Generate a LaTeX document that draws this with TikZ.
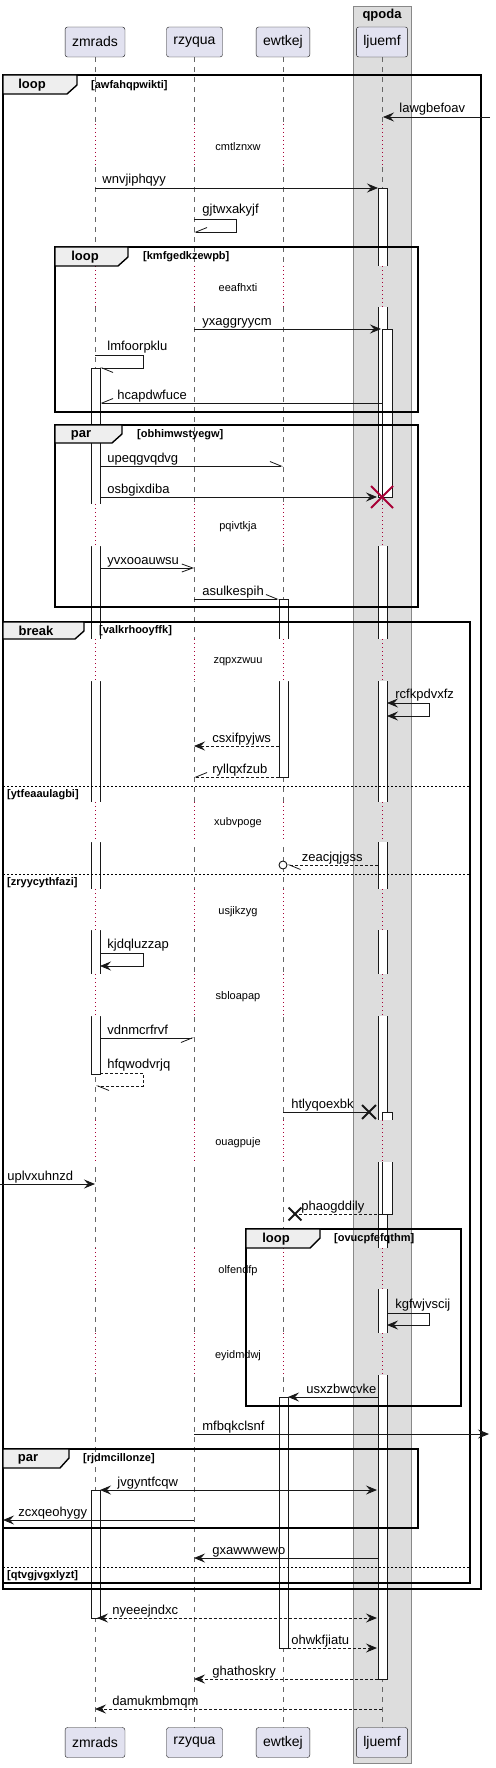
\documentclass[tikz,border=0pt]{standalone}
\usepackage{fontspec}
\setmainfont{Liberation Sans}
\usetikzlibrary{arrows.meta,shapes.misc}
\definecolor{partfill}{HTML}{E2E2F0}
\definecolor{partline}{HTML}{181818}
\definecolor{boxfill}{HTML}{DDDDDD}
\definecolor{boxline}{HTML}{888888}
\definecolor{tabfill}{HTML}{EEEEEE}
\definecolor{lifegray}{HTML}{666666}
\definecolor{delayred}{HTML}{A80036}

\begin{document}
\begin{tikzpicture}[x=1pt, y=-1pt,
    part/.style={draw=partline, fill=partfill, rounded corners=2.5pt, minimum height=30pt, inner xsep=7pt, font=\fontsize{14}{16}\selectfont},
    life/.style={draw=lifegray, line width=0.7pt, dash pattern=on 5pt off 5pt},
    act/.style={draw=partline, fill=white, line width=0.8pt},
    dly/.style={draw=delayred, line width=0.8pt, dash pattern=on 1pt off 3pt},
    dtxt/.style={font=\fontsize{11}{13}\selectfont, inner sep=0pt},
    frame/.style={draw=black, line width=1.4pt},
    tab/.style={draw=black, fill=tabfill, line width=1.4pt},
    kw/.style={font=\bfseries\fontsize{13}{15}\selectfont, inner sep=0pt},
    cond/.style={anchor=west, font=\bfseries\fontsize{11}{13}\selectfont, inner sep=0pt},
    elsesep/.style={draw=black, line width=0.8pt, dash pattern=on 2pt off 2pt},
    lbl/.style={anchor=base west, font=\fontsize{13}{15}\selectfont, inner sep=0pt},
    msg/.style={draw=partline, line width=0.8pt},
    ret/.style={msg, dash pattern=on 3pt off 2pt},
    sync/.style={-{Stealth[length=11pt, width=9pt, inset=4pt]}},
    both/.style={{Stealth[length=11pt, width=9pt, inset=4pt]}-{Stealth[length=11pt, width=9pt, inset=4pt]}},
    async/.style={-{Straight Barb[length=11pt, width=8pt]}},
    harp/.style={-{Straight Barb[harpoon, length=11pt, width=9pt]}},
    harpsw/.style={-{Straight Barb[harpoon, swap, length=11pt, width=9pt]}},
    xmark/.style={cross out, draw=partline, line width=1.8pt, minimum size=11pt, inner sep=0pt}
]
    \useasboundingbox (0,0) rectangle (495,1768);

    % box around ljuemf
    \draw[draw=boxline, fill=boxfill, line width=0.8pt] (353,6) rectangle (411,1763);
    \node[kw] (grp) at (382,15) {qpoda};

    % participants, top and bottom
    \node[part] (zm) at (95,42) {zmrads};
    \node[part] (rz) at (194.5,42) {rzyqua};
    \node[part] (ew) at (283,42) {ewtkej};
    \node[part] (lj) at (382,42) {ljuemf};
    \node[part] (zmb) at (95,1742.5) {zmrads};
    \node[part] (rzb) at (194.5,1742.5) {rzyqua};
    \node[part] (ewb) at (283,1742.5) {ewtkej};
    \node[part] (ljb) at (382,1742.5) {ljuemf};

    % lifelines
    \draw[life] (zm) -- (zmb);
    \draw[life] (rz) -- (rzb);
    \draw[life] (ew) -- (ewb);
    \draw[life] (lj) -- (ljb);

    % activations
    \draw[act] (91,368) rectangle (100,1074);
    \draw[act] (91,1490) rectangle (100,1618);
    \draw[act] (279,599) rectangle (288,777);
    \draw[act] (279,1397) rectangle (288,1648);
    \draw[act] (378,188) rectangle (387,497);
    \draw[act] (382,329) rectangle (392,497);
    \draw[act] (378,504) rectangle (387,1679);
    \draw[act] (382,1112) rectangle (392,1214);

    % delays
    \fill[white] (88,124) rectangle (103,167) (190,124) rectangle (198,167) (276,124) rectangle (291,167);
    \fill[boxfill] (376,124) rectangle (395,167);
    \draw[dly] (95,124) -- (95,167) (194,124) -- (194,167) (283,124) -- (283,167) (382,124) -- (382,167);
    \node[dtxt] (d1) at (238,147) {cmtlznxw};

    \fill[white] (88,266) rectangle (103,307) (190,266) rectangle (198,307) (276,266) rectangle (291,307);
    \fill[boxfill] (376,266) rectangle (395,307);
    \draw[dly] (95,266) -- (95,307) (194,266) -- (194,307) (283,266) -- (283,307) (382,266) -- (382,307);
    \node[dtxt] (d2) at (238,288) {eeafhxti};

    \fill[white] (88,504) rectangle (103,546) (190,504) rectangle (198,546) (276,504) rectangle (291,546);
    \fill[boxfill] (376,504) rectangle (395,546);
    \draw[dly] (95,504) -- (95,546) (194,504) -- (194,546) (283,504) -- (283,546) (382,504) -- (382,546);
    \node[dtxt] (d3) at (238,527) {pqivtkja};

    \fill[white] (88,639) rectangle (103,681) (190,639) rectangle (198,681) (276,639) rectangle (291,681);
    \fill[boxfill] (376,639) rectangle (395,681);
    \draw[dly] (95,639) -- (95,681) (194,639) -- (194,681) (283,639) -- (283,681) (382,639) -- (382,681);
    \node[dtxt] (d4) at (238,662) {zqpxzwuu};

    \fill[white] (88,802) rectangle (103,842) (190,802) rectangle (198,842) (276,802) rectangle (291,842);
    \fill[boxfill] (376,802) rectangle (395,842);
    \draw[dly] (95,802) -- (95,842) (194,802) -- (194,842) (283,802) -- (283,842) (382,802) -- (382,842);
    \node[dtxt] (d5) at (238,823) {xubvpoge};

    \fill[white] (88,889) rectangle (103,930) (190,889) rectangle (198,930) (276,889) rectangle (291,930);
    \fill[boxfill] (376,889) rectangle (395,930);
    \draw[dly] (95,889) -- (95,930) (194,889) -- (194,930) (283,889) -- (283,930) (382,889) -- (382,930);
    \node[dtxt] (d6) at (238,912) {usjikzyg};

    \fill[white] (88,974) rectangle (103,1016) (190,974) rectangle (198,1016) (276,974) rectangle (291,1016);
    \fill[boxfill] (376,974) rectangle (395,1016);
    \draw[dly] (95,974) -- (95,1016) (194,974) -- (194,1016) (283,974) -- (283,1016) (382,974) -- (382,1016);
    \node[dtxt] (d7) at (238,997) {sbloapap};

    \fill[white] (88,1120) rectangle (103,1162) (190,1120) rectangle (198,1162) (276,1120) rectangle (291,1162);
    \fill[boxfill] (376,1120) rectangle (395,1162);
    \draw[dly] (95,1120) -- (95,1162) (194,1120) -- (194,1162) (283,1120) -- (283,1162) (382,1120) -- (382,1162);
    \node[dtxt] (d8) at (238,1143) {ouagpuje};

    \fill[white] (88,1248) rectangle (103,1289) (190,1248) rectangle (198,1289) (276,1248) rectangle (291,1289);
    \fill[boxfill] (376,1248) rectangle (395,1289);
    \draw[dly] (95,1248) -- (95,1289) (194,1248) -- (194,1289) (283,1248) -- (283,1289) (382,1248) -- (382,1289);
    \node[dtxt] (d9) at (238,1271) {olfendfp};

    \fill[white] (88,1333) rectangle (103,1375) (190,1333) rectangle (198,1375) (276,1333) rectangle (291,1375);
    \fill[boxfill] (376,1333) rectangle (395,1375);
    \draw[dly] (95,1333) -- (95,1375) (194,1333) -- (194,1375) (283,1333) -- (283,1375) (382,1333) -- (382,1375);
    \node[dtxt] (d10) at (238,1356) {eyidmdwj};

    % loop awfahqpwikti
    \draw[frame] (3,75) rectangle (481,1589);
    \draw[tab] (3,75) -- (77,75) -- (77,85) -- (67,94) -- (3,94) -- cycle;
    \node[kw] (f1) at (32,85) {loop};
    \node[cond] (c1) at (91,86) {[awfahqpwikti]};

    % loop kmfgedkzewpb
    \draw[frame] (55,247) rectangle (418,412);
    \draw[tab] (55,247) -- (128,247) -- (128,257) -- (118,266) -- (55,266) -- cycle;
    \node[kw] (f2) at (85,257) {loop};
    \node[cond] (c2) at (143,257) {[kmfgedkzewpb]};

    % par obhimwstyegw
    \draw[frame] (55,425) rectangle (418,607);
    \draw[tab] (55,425) -- (122,425) -- (122,434) -- (112,443) -- (55,443) -- cycle;
    \node[kw] (f3) at (81,435) {par};
    \node[cond] (c3) at (137,435) {[obhimwstyegw]};

    % break valkrhooyffk, with two else parts
    \draw[frame] (3,622) rectangle (470,1583);
    \draw[tab] (3,622) -- (84,622) -- (84,631) -- (75,639) -- (3,639) -- cycle;
    \node[kw] (f4) at (36,631) {break};
    \node[cond] (c4) at (99,631) {[valkrhooyffk]};
    \draw[elsesep] (3,786) -- (470,786);
    \node[cond] (e1) at (7,795) {[ytfeaaulagbi]};
    \draw[elsesep] (3,874) -- (470,874);
    \node[cond] (e2) at (7,883) {[zryycythfazi]};
    \draw[elsesep] (3,1567) -- (470,1567);
    \node[cond] (e3) at (7,1576) {[qtvgjvgxlyzt]};

    % loop ovucpfefqthm
    \draw[frame] (246,1229) rectangle (461,1406);
    \draw[tab] (246,1229) -- (320,1229) -- (320,1238) -- (310,1248) -- (246,1248) -- cycle;
    \node[kw] (f5) at (276,1239) {loop};
    \node[cond] (c5) at (334,1239) {[ovucpfefqthm]};

    % par rjdmcillonze
    \draw[frame] (3,1449) rectangle (418,1528);
    \draw[tab] (3,1449) -- (69,1449) -- (69,1458) -- (60,1468) -- (3,1468) -- cycle;
    \node[kw] (f6) at (28,1459) {par};
    \node[cond] (c6) at (83,1459) {[rjdmcillonze]};

    % messages
    \coordinate (m1a) at (490,117); \coordinate (m1b) at (383,117);
    \draw[msg, sync] (m1a) -- (m1b) node[lbl, pos=1, xshift=16pt, yshift=4pt] (l1) {lawgbefoav};
    \coordinate (m2a) at (95,188); \coordinate (m2b) at (378,188);
    \draw[msg, sync] (m2a) -- (m2b) node[lbl, pos=0, xshift=7pt, yshift=4pt] (l2) {wnvjiphqyy};
    \coordinate (m3a) at (194,219); \coordinate (m3b) at (194,232);
    \draw[msg, harpsw] (m3a) -- node[lbl, pos=0, xshift=8pt, yshift=5pt] (l3) {gjtwxakyjf} ++(42,0) -- ++(0,13) -- (m3b);
    \coordinate (m4a) at (194,329); \coordinate (m4b) at (381,329);
    \draw[msg, sync] (m4a) -- (m4b) node[lbl, pos=0, xshift=8pt, yshift=4pt] (l4) {yxaggryycm};
    \coordinate (m5a) at (95,355); \coordinate (m5b) at (100,368);
    \draw[msg, harp] (m5a) -- node[lbl, pos=0, xshift=12pt, yshift=5pt] (l5) {lmfoorpklu} ++(48,0) -- ++(0,13) -- (m5b);
    \coordinate (m6a) at (382,403); \coordinate (m6b) at (100,403);
    \draw[msg, harpsw] (m6a) -- (m6b) node[lbl, pos=1, xshift=17pt, yshift=4pt] (l6) {hcapdwfuce};
    \coordinate (m7a) at (100,466); \coordinate (m7b) at (283,466);
    \draw[msg, harp] (m7a) -- (m7b) node[lbl, pos=0, xshift=7pt, yshift=4pt] (l7) {upeqgvqdvg};
    \coordinate (m8a) at (100,497); \coordinate (m8b) at (377,497);
    \draw[msg, sync] (m8a) -- (m8b) node[lbl, pos=0, xshift=7pt, yshift=4pt] (l8) {osbgixdiba};
    \node[xmark, draw=delayred, line width=2pt, minimum size=20pt] (kx) at (382,497) {};
    \coordinate (m9a) at (100,568); \coordinate (m9b) at (194,568);
    \draw[msg, async] (m9a) -- (m9b) node[lbl, pos=0, xshift=7pt, yshift=4pt] (l9) {yvxooauwsu};
    \coordinate (m10a) at (194,599); \coordinate (m10b) at (279,599);
    \draw[msg, harp] (m10a) -- (m10b) node[lbl, pos=0, xshift=8pt, yshift=4pt] (l10) {asulkespih};
    \coordinate (m11a) at (387,703); \coordinate (m11b) at (387,716);
    \draw[msg, both] (m11a) -- node[lbl, pos=0, xshift=8pt, yshift=5pt] (l11) {rcfkpdvxfz} ++(42,0) -- ++(0,13) -- (m11b);
    \coordinate (m12a) at (279,746); \coordinate (m12b) at (194,746);
    \draw[ret, sync] (m12a) -- (m12b) node[lbl, pos=1, xshift=18pt, yshift=4pt] (l12) {csxifpyjws};
    \coordinate (m13a) at (279,777); \coordinate (m13b) at (194,777);
    \draw[ret, harpsw] (m13a) -- (m13b) node[lbl, pos=1, xshift=18pt, yshift=4pt] (l13) {ryllqxfzub};
    \node[circle, draw=partline, fill=white, line width=0.9pt, minimum size=8pt, inner sep=0pt] (zc) at (283,865) {};
    \coordinate (m14a) at (378,865);
    \draw[ret, harp] (m14a) -- (zc.east) node[lbl, pos=1, xshift=14pt, yshift=4pt] (l14) {zeacjqjgss};
    \coordinate (m15a) at (100,953); \coordinate (m15b) at (100,966);
    \draw[msg, sync] (m15a) -- node[lbl, pos=0, xshift=7pt, yshift=5pt] (l15) {kjdqluzzap} ++(43,0) -- ++(0,13) -- (m15b);
    \coordinate (m16a) at (100,1038); \coordinate (m16b) at (194,1038);
    \draw[msg, harpsw] (m16a) -- (m16b) node[lbl, pos=0, xshift=7pt, yshift=4pt] (l16) {vdnmcrfrvf};
    \coordinate (m17a) at (100,1073); \coordinate (m17b) at (96,1086);
    \draw[ret, harp] (m17a) -- node[lbl, pos=0, xshift=7pt, yshift=5pt] (l17) {hfqwodvrjq} ++(43,0) -- ++(0,13) -- (m17b);
    \node[xmark, minimum size=12pt] (hx) at (369,1112) {};
    \coordinate (m18a) at (283,1112);
    \draw[msg] (m18a) -- (hx.center) node[lbl, pos=0, xshift=8pt, yshift=4pt] (l18) {htlyqoexbk};
    \coordinate (m19a) at (0,1184); \coordinate (m19b) at (95,1184);
    \draw[msg, sync] (m19a) -- (m19b) node[lbl, pos=0, xshift=7pt, yshift=4pt] (l19) {uplvxuhnzd};
    \node[xmark, minimum size=11pt] (px) at (295,1214) {};
    \coordinate (m20a) at (382,1214);
    \draw[ret] (m20a) -- (px.center) node[lbl, pos=1, xshift=6pt, yshift=4pt] (l20) {phaogddily};
    \coordinate (m21a) at (387,1313); \coordinate (m21b) at (387,1325);
    \draw[msg, sync] (m21a) -- node[lbl, pos=0, xshift=8pt, yshift=5pt] (l21) {kgfwjvscij} ++(42,0) -- ++(0,12) -- (m21b);
    \coordinate (m22a) at (378,1397); \coordinate (m22b) at (288,1397);
    \draw[msg, sync] (m22a) -- (m22b) node[lbl, pos=1, xshift=18pt, yshift=4pt] (l22) {usxzbwcvke};
    \coordinate (m23a) at (194,1434); \coordinate (m23b) at (489,1434);
    \draw[msg, sync] (m23a) -- (m23b) node[lbl, pos=0, xshift=8pt, yshift=4pt] (l23) {mfbqkclsnf};
    \coordinate (m24a) at (100,1490); \coordinate (m24b) at (377,1490);
    \draw[msg, both] (m24a) -- (m24b) node[lbl, pos=0, xshift=17pt, yshift=4pt] (l24) {jvgyntfcqw};
    \coordinate (m25a) at (194,1520); \coordinate (m25b) at (3,1520);
    \draw[msg, sync] (m25a) -- (m25b) node[lbl, pos=1, xshift=15pt, yshift=4pt] (l25) {zcxqeohygy};
    \coordinate (m26a) at (378,1558); \coordinate (m26b) at (194,1558);
    \draw[msg, sync] (m26a) -- (m26b) node[lbl, pos=1, xshift=18pt, yshift=4pt] (l26) {gxawwwewo};
    \coordinate (m27a) at (97,1618); \coordinate (m27b) at (377,1618);
    \draw[ret, both] (m27a) -- (m27b) node[lbl, pos=0, xshift=15pt, yshift=4pt] (l27) {nyeeejndxc};
    \coordinate (m28a) at (288,1648); \coordinate (m28b) at (377,1648);
    \draw[ret, sync] (m28a) -- (m28b) node[lbl, pos=0, xshift=3pt, yshift=4pt] (l28) {ohwkfjiatu};
    \coordinate (m29a) at (378,1679); \coordinate (m29b) at (194,1679);
    \draw[ret, sync] (m29a) -- (m29b) node[lbl, pos=1, xshift=18pt, yshift=4pt] (l29) {ghathoskry};
    \coordinate (m30a) at (382,1709); \coordinate (m30b) at (95,1709);
    \draw[ret, sync] (m30a) -- (m30b) node[lbl, pos=1, xshift=17pt, yshift=4pt] (l30) {damukmbmqm};
\end{tikzpicture}
\end{document}
